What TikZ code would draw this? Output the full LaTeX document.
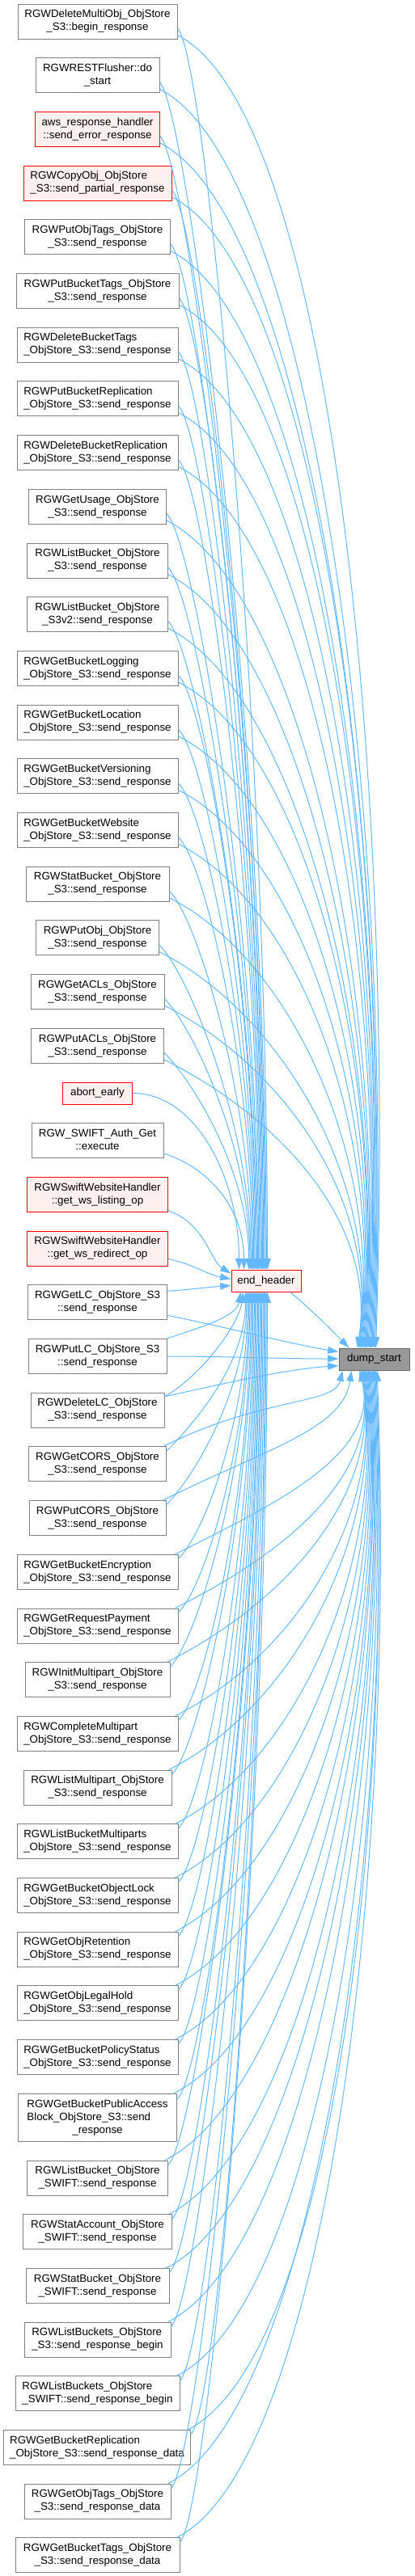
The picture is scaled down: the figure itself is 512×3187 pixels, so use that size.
\documentclass[tikz,border=0pt]{standalone}
\usepackage{fontspec}
\setmainfont{Liberation Sans}
\usetikzlibrary{arrows.meta,calc}
\definecolor{edgeblue}{HTML}{63B8FF}
\definecolor{boxgray}{HTML}{808080}
\definecolor{redfill}{HTML}{FFF0F0}
\definecolor{dsfill}{HTML}{999999}
\definecolor{dsborder}{HTML}{666666}
\newcommand{\lbl}[2]{\begin{tabular}{@{}l@{}}#1\\\multicolumn{1}{@{}c@{}}{#2}\end{tabular}}
\newcommand{\nfont}{\fontsize{10}{12}\selectfont}
\begin{document}
\begin{tikzpicture}[x=0.75pt,y=-0.75pt,
  box/.style={draw=boxgray, fill=white, line width=0.75pt, inner sep=0pt, font=\nfont, minimum height=32.25pt},
  redbox/.style={box, draw=red, fill=redfill},
  boxw/.style={minimum width=#1*0.75pt},
  oneline/.style={minimum height=20.25pt},
  threeline/.style={minimum height=44.25pt},
  edge/.style={draw=edgeblue, line width=0.75pt, -{Triangle[length=10pt,width=6.5pt]}}]
\useasboundingbox (0,0) rectangle (512,3187);
% callers
\node[box,boxw=197] (n1) at (120.5,26.5) {\lbl{RGWDeleteMultiObj\_ObjStore}{\_S3::begin\_response}};
\node[box,boxw=153] (n2) at (120.5,93.2) {\lbl{RGWRESTFlusher::do}{\_start}};
\node[redbox,boxw=154] (n3) at (120.5,159.9) {\lbl{aws\_response\_handler}{::send\_error\_response}};
\node[redbox,boxw=183] (n4) at (120.5,226.6) {\lbl{RGWCopyObj\_ObjStore}{\_S3::send\_partial\_response}};
\node[box,boxw=180] (n5) at (120.5,293.3) {\lbl{RGWPutObjTags\_ObjStore}{\_S3::send\_response}};
\node[box,boxw=201] (n6) at (120.5,360.0) {\lbl{RGWPutBucketTags\_ObjStore}{\_S3::send\_response}};
\node[box,boxw=199] (n7) at (120.5,426.7) {\lbl{RGWDeleteBucketTags}{\_ObjStore\_S3::send\_response}};
\node[box,boxw=199] (n8) at (120.5,493.4) {\lbl{RGWPutBucketReplication}{\_ObjStore\_S3::send\_response}};
\node[box,boxw=199] (n9) at (120.5,560.1) {\lbl{RGWDeleteBucketReplication}{\_ObjStore\_S3::send\_response}};
\node[box,boxw=170] (n10) at (120.5,626.8) {\lbl{RGWGetUsage\_ObjStore}{\_S3::send\_response}};
\node[box,boxw=174] (n11) at (120.5,693.5) {\lbl{RGWListBucket\_ObjStore}{\_S3::send\_response}};
\node[box,boxw=174] (n12) at (120.5,760.2) {\lbl{RGWListBucket\_ObjStore}{\_S3v2::send\_response}};
\node[box,boxw=199] (n13) at (120.5,826.9) {\lbl{RGWGetBucketLogging}{\_ObjStore\_S3::send\_response}};
\node[box,boxw=199] (n14) at (120.5,893.6) {\lbl{RGWGetBucketLocation}{\_ObjStore\_S3::send\_response}};
\node[box,boxw=199] (n15) at (120.5,960.3) {\lbl{RGWGetBucketVersioning}{\_ObjStore\_S3::send\_response}};
\node[box,boxw=199] (n16) at (120.5,1027.0) {\lbl{RGWGetBucketWebsite}{\_ObjStore\_S3::send\_response}};
\node[box,boxw=177] (n17) at (120.5,1093.7) {\lbl{RGWStatBucket\_ObjStore}{\_S3::send\_response}};
\node[box,boxw=152] (n18) at (120.5,1160.4) {\lbl{RGWPutObj\_ObjStore}{\_S3::send\_response}};
\node[box,boxw=165] (n19) at (120.5,1227.1) {\lbl{RGWGetACLs\_ObjStore}{\_S3::send\_response}};
\node[box,boxw=164] (n20) at (120.5,1293.8) {\lbl{RGWPutACLs\_ObjStore}{\_S3::send\_response}};
\node[redbox,oneline,boxw=86] (n21) at (120.5,1352.5) {abort\_early};
\node[box,boxw=163] (n22) at (120.5,1411.2) {\lbl{RGW\_SWIFT\_Auth\_Get}{::execute}};
\node[redbox,boxw=174] (n23) at (120.5,1477.9) {\lbl{RGWSwiftWebsiteHandler}{::get\_ws\_listing\_op}};
\node[redbox,boxw=174] (n24) at (120.5,1544.6) {\lbl{RGWSwiftWebsiteHandler}{::get\_ws\_redirect\_op}};
\node[box,boxw=172] (n25) at (120.5,1611.3) {\lbl{RGWGetLC\_ObjStore\_S3}{::send\_response}};
\node[box,boxw=171] (n26) at (120.5,1678.0) {\lbl{RGWPutLC\_ObjStore\_S3}{::send\_response}};
\node[box,boxw=165] (n27) at (120.5,1744.7) {\lbl{RGWDeleteLC\_ObjStore}{\_S3::send\_response}};
\node[box,boxw=170] (n28) at (120.5,1811.4) {\lbl{RGWGetCORS\_ObjStore}{\_S3::send\_response}};
\node[box,boxw=169] (n29) at (120.5,1878.1) {\lbl{RGWPutCORS\_ObjStore}{\_S3::send\_response}};
\node[box,boxw=199] (n30) at (120.5,1944.8) {\lbl{RGWGetBucketEncryption}{\_ObjStore\_S3::send\_response}};
\node[box,boxw=199] (n31) at (120.5,2011.5) {\lbl{RGWGetRequestPayment}{\_ObjStore\_S3::send\_response}};
\node[box,boxw=179] (n32) at (120.5,2078.2) {\lbl{RGWInitMultipart\_ObjStore}{\_S3::send\_response}};
\node[box,boxw=199] (n33) at (120.5,2144.9) {\lbl{RGWCompleteMultipart}{\_ObjStore\_S3::send\_response}};
\node[box,boxw=183] (n34) at (120.5,2211.6) {\lbl{RGWListMultipart\_ObjStore}{\_S3::send\_response}};
\node[box,boxw=199] (n35) at (120.5,2278.3) {\lbl{RGWListBucketMultiparts}{\_ObjStore\_S3::send\_response}};
\node[box,boxw=199] (n36) at (120.5,2345.0) {\lbl{RGWGetBucketObjectLock}{\_ObjStore\_S3::send\_response}};
\node[box,boxw=199] (n37) at (120.5,2411.7) {\lbl{RGWGetObjRetention}{\_ObjStore\_S3::send\_response}};
\node[box,boxw=199] (n38) at (120.5,2478.4) {\lbl{RGWGetObjLegalHold}{\_ObjStore\_S3::send\_response}};
\node[box,boxw=199] (n39) at (120.5,2545.1) {\lbl{RGWGetBucketPolicyStatus}{\_ObjStore\_S3::send\_response}};
\node[box,threeline,boxw=196] (n40) at (120.5,2619.8) {\lbl{RGWGetBucketPublicAccess\\Block\_ObjStore\_S3::send}{\_response}};
\node[box,boxw=174] (n41) at (120.5,2694.5) {\lbl{RGWListBucket\_ObjStore}{\_SWIFT::send\_response}};
\node[box,boxw=184] (n42) at (120.5,2761.2) {\lbl{RGWStatAccount\_ObjStore}{\_SWIFT::send\_response}};
\node[box,boxw=177] (n43) at (120.5,2827.9) {\lbl{RGWStatBucket\_ObjStore}{\_SWIFT::send\_response}};
\node[box,boxw=181] (n44) at (120.5,2894.6) {\lbl{RGWListBuckets\_ObjStore}{\_S3::send\_response\_begin}};
\node[box,boxw=203] (n45) at (120.5,2961.3) {\lbl{RGWListBuckets\_ObjStore}{\_SWIFT::send\_response\_begin}};
\node[box,boxw=231] (n46) at (120,3028.0) {\lbl{RGWGetBucketReplication}{\_ObjStore\_S3::send\_response\_data}};
\node[box,boxw=181] (n47) at (120.5,3094.7) {\lbl{RGWGetObjTags\_ObjStore}{\_S3::send\_response\_data}};
\node[box,boxw=203] (n48) at (120.5,3161.4) {\lbl{RGWGetBucketTags\_ObjStore}{\_S3::send\_response\_data}};
% callees
\node[redbox,oneline,boxw=86] (eh) at (329,1584.5) {end\_header};
\node[box,oneline,boxw=87,draw=dsborder,fill=dsfill] (ds) at (462.5,1681.5) {dump\_start};
% upper callers
\foreach \i in {1,...,20}{
  \pgfmathsetmacro{\cy}{26.5+66.7*(\i-1)}
  \pgfmathsetmacro{\cya}{-0.45*(1571-\cy-8.6)}
  \pgfmathsetmacro{\exa}{45-1.2*(\i-1)}
  \pgfmathsetmacro{\dyb}{1668-\cy-17.2}
  \pgfmathsetmacro{\exb}{46-1.2*(\i-1)}
  \pgfmathsetmacro{\cxb}{120+0.04*\dyb}
  \pgfmathsetmacro{\cyb}{0.5*\cxb}
  \pgfmathsetmacro{\cyc}{-0.45*\dyb}
  \draw[edge] ($(n\i.east)+(0,8.6)$) .. controls +(35,35) and +(0,\cya) .. ($(eh.north west)+(\exa,0)$);
  \draw[edge] ($(n\i.east)+(0,17.2)$) .. controls +(\cxb,\cyb) and +(25,\cyc) .. ($(ds.north west)+(\exb,0)$);
}
% middle callers
\draw[edge] (n21.east) .. controls +(80,0) and +(0,-110) .. ($(eh.north west)+(10,0)$);
\draw[edge] ($(n22.east)+(0,16)$) .. controls +(50,15) and +(0,-80) .. ($(eh.north west)+(16,0)$);
\draw[edge] ($(n23.east)+(0,20)$) .. controls +(45,15) and +(-25,-15) .. ($(eh.west)+(0,-9)$);
\draw[edge] ($(n24.east)+(0,13)$) .. controls +(30,6) and +(-30,-6) .. ($(eh.west)+(0,-2)$);
\draw[edge] ($(n25.east)+(0,-14)$) .. controls +(30,-2) and +(-30,2) .. ($(eh.west)+(0,6)$);
\draw[edge] ($(n25.east)+(0,16)$) .. controls +(70,14) and +(-70,-12) .. ($(ds.west)+(0,-9)$);
\draw[edge] (n26.north east) .. controls +(45,-15) and +(-5,30) .. ($(eh.south west)+(12,0)$);
\draw[edge] (n26.east) .. controls +(70,0) and +(-70,0) .. ($(ds.west)+(0,-0.5)$);
\draw[edge] ($(n27.east)+(0,-17)$) .. controls +(45,-25) and +(-5,40) .. ($(eh.south west)+(15,0)$);
\draw[edge] ($(n27.east)+(0,-17)$) .. controls +(70,-15) and +(-70,5) .. ($(ds.west)+(0,8)$);
% lower callers
\foreach \i/\cy/\h in {28/1811.4/43,29/1878.1/43,30/1944.8/43,31/2011.5/43,32/2078.2/43,33/2144.9/43,34/2211.6/43,35/2278.3/43,36/2345.0/43,37/2411.7/43,38/2478.4/43,39/2545.1/43,40/2619.8/59,41/2694.5/43,42/2761.2/43,43/2827.9/43,44/2894.6/43,45/2961.3/43,46/3028.0/43,47/3094.7/43,48/3161.4/43}{
  \pgfmathsetmacro{\sya}{-0.38*\h}
  \pgfmathsetmacro{\cya}{0.45*(\cy-0.38*\h-1598)}
  \pgfmathsetmacro{\exa}{18+1.35*(\i-28)}
  \pgfmathsetmacro{\dyb}{\cy-0.5*\h-1695}
  \pgfmathsetmacro{\exb}{ifthenelse(\i==28,5,ifthenelse(\i==29,16,26+1.2*(\i-30)))}
  \pgfmathsetmacro{\cxb}{120+0.04*\dyb}
  \pgfmathsetmacro{\cyb}{-0.5*\cxb}
  \pgfmathsetmacro{\cxc}{ifthenelse(\i<30,-10,25)}
  \pgfmathsetmacro{\cyc}{0.45*\dyb}
  \draw[edge] ($(n\i.east)+(0,\sya)$) .. controls +(35,-35) and +(0,\cya) .. ($(eh.south west)+(\exa,0)$);
  \draw[edge] ($(n\i.north east)+(-4,0)$) .. controls +(\cxb,\cyb) and +(\cxc,\cyc) .. ($(ds.south west)+(\exb,0)$);
}
% end_header -> dump_start
\draw[edge] ($(eh.south east)+(-14,0)$) .. controls +(25,20) and +(-20,-20) .. ($(ds.north west)+(13,0)$);
\end{tikzpicture}
\end{document}
